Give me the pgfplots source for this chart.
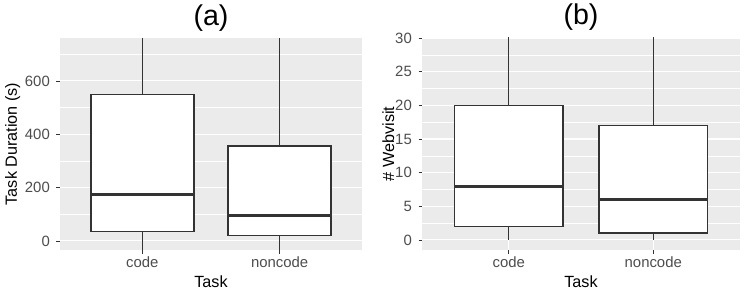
\documentclass[border=0pt]{standalone}
\usepackage{pgfplots}
\pgfplotsset{compat=1.18}
\usepgfplotslibrary{statistics}
\usepackage{fontspec}
\setmainfont{Liberation Sans}
\definecolor{panelbg}{HTML}{EBEBEB}
\definecolor{grayA}{HTML}{333333}
\definecolor{grayB}{HTML}{4D4D4D}
\pgfplotsset{
  ggbox/.style={
    scale only axis, height=212pt,
    xmin=0.4, xmax=2.6, xtick={1,2}, xticklabels={code,noncode},
    axis background/.style={fill=panelbg},
    axis line style={draw=none},
    grid style={white, line width=1.1pt},
    minor grid style={white, line width=0.55pt},
    xmajorgrids, ymajorgrids, yminorgrids,
    tick align=outside, xtick pos=left, ytick pos=left,
    major tick length=3.5pt, minor tick length=0pt,
    tick style={grayA, line width=0.8pt},
    tick label style={font=\fontsize{14.9}{15}\selectfont, text=grayB},
    yticklabel style={anchor=east, inner sep=0pt, xshift=-6.5pt},
    xticklabel style={anchor=base, inner sep=0pt, yshift=-14pt},
    /pgf/number format/assume math mode=true,
    every axis x label/.style={at={(axis description cs:0.5,0)}, anchor=base, yshift=-37pt, font=\fontsize{16.2}{16}\selectfont},
    title style={font=\fontsize{28.6}{28}\selectfont, at={(axis description cs:0.5,1)}, anchor=base, yshift=7pt},
    boxplot/draw direction=y,
    clip=true,
  },
  ggb/.style={draw=grayA, fill=white, line width=1.5pt, solid,
    boxplot/whisker extend=0,
    boxplot/every whisker/.style={draw=grayA, line width=1.5pt},
    boxplot/every box/.style={draw=grayA, fill=white, line width=1.5pt},
    boxplot/every median/.style={draw=grayA, line width=3pt}},
}
\begin{document}
\begin{tikzpicture}
\useasboundingbox (0,0) rectangle (747pt,-294pt);
\begin{axis}[ggbox, width=302pt, at={(60pt,-250pt)}, anchor=south west,
  ymin=-34, ymax=761, ytick={0,200,400,600}, minor ytick={100,300,500,700},
  title={(a)}, xlabel={Task}, ylabel={Task Duration (s)},
  every axis y label/.style={at={(axis description cs:0,0.5)}, rotate=90, anchor=base, yshift=43pt, font=\fontsize{16.2}{16}\selectfont}]
\addplot[ggb, boxplot prepared={draw position=1, box extend=0.75,
  lower whisker=-40, lower quartile=35, median=175, upper quartile=550, upper whisker=2000}] coordinates {};
\addplot[ggb, boxplot prepared={draw position=2, box extend=0.75,
  lower whisker=-40, lower quartile=20, median=96, upper quartile=356, upper whisker=2000}] coordinates {};
\end{axis}
\begin{axis}[ggbox, width=318pt, at={(422pt,-250pt)}, anchor=south west,
  ymin=-1.5, ymax=30, ytick={0,5,...,30}, minor ytick={2.5,7.5,...,27.5},
  title={(b)}, xlabel={Task}, ylabel={\# Webvisit},
  every axis y label/.style={at={(axis description cs:0,0.5)}, rotate=90, anchor=base, yshift=28pt, font=\fontsize{16.2}{16}\selectfont}]
\addplot[ggb, boxplot prepared={draw position=1, box extend=0.75,
  lower whisker=0, lower quartile=2, median=8, upper quartile=20, upper whisker=40}] coordinates {};
\addplot[ggb, boxplot prepared={draw position=2, box extend=0.75,
  lower whisker=0, lower quartile=1, median=6, upper quartile=17, upper whisker=40}] coordinates {};
\end{axis}
\end{tikzpicture}
\end{document}
